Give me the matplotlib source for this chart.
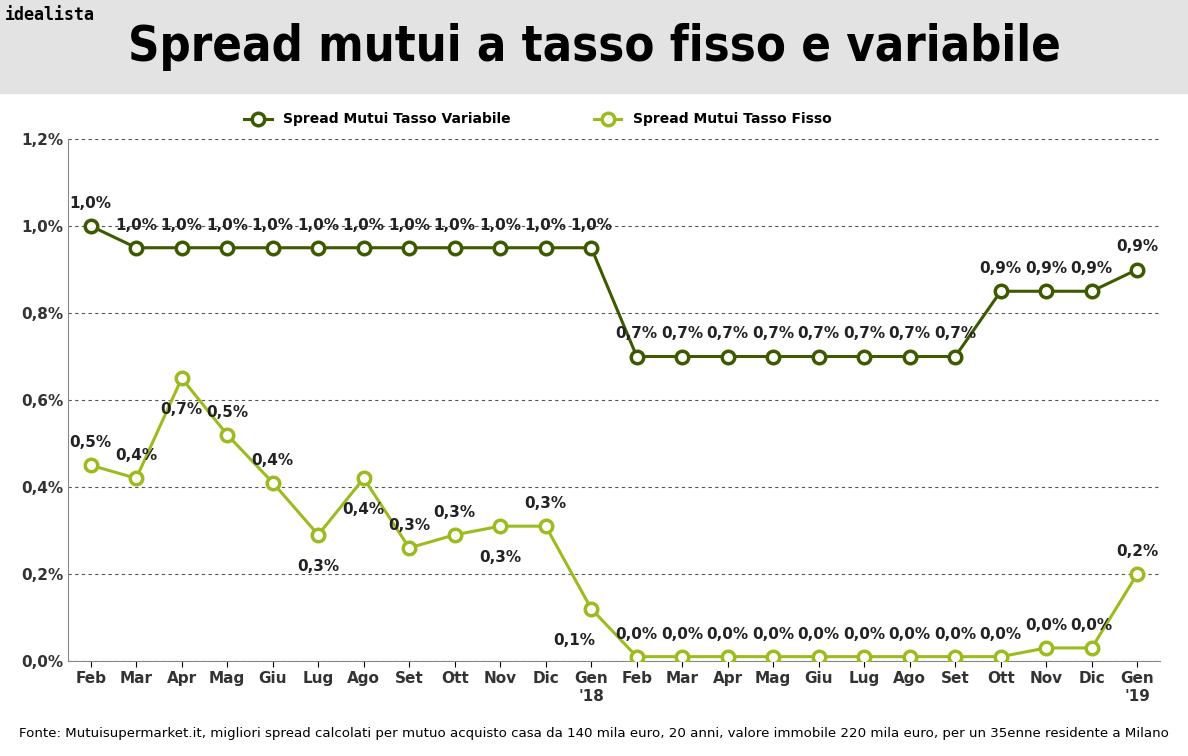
import matplotlib
matplotlib.use("Agg")
import matplotlib.pyplot as plt
from matplotlib.ticker import FuncFormatter

months = ["Feb","Mar","Apr","Mag","Giu","Lug","Ago","Set","Ott","Nov","Dic","Gen\n'18",
          "Feb","Mar","Apr","Mag","Giu","Lug","Ago","Set","Ott","Nov","Dic","Gen\n'19"]
variabile = [1.00,0.95,0.95,0.95,0.95,0.95,0.95,0.95,0.95,0.95,0.95,0.95,
             0.70,0.70,0.70,0.70,0.70,0.70,0.70,0.70,0.85,0.85,0.85,0.90]
fisso = [0.45,0.42,0.65,0.52,0.41,0.29,0.42,0.26,0.29,0.31,0.31,0.12,
         0.01,0.01,0.01,0.01,0.01,0.01,0.01,0.01,0.01,0.03,0.03,0.20]

dark = "#3d5a00"
light = "#9bbb1e"

fig = plt.figure(figsize=(11.88, 7.56), dpi=100)
fig.patches.append(plt.Rectangle((0, 1-93/756), 1, 93/756, transform=fig.transFigure,
                                 color="#e3e3e3", zorder=0))
fig.text(0.5, 1-47/756, "Spread mutui a tasso fisso e variabile", ha="center", va="center",
         fontsize=35, fontweight="bold", fontstretch="condensed", family="DejaVu Sans")
fig.text(0.004, 1-15/756, "idealista", ha="left", va="center", fontsize=12,
         fontweight="bold", family="DejaVu Sans Mono")
fig.text(0.5, 1-733/756, "Fonte: Mutuisupermarket.it, migliori spread calcolati per mutuo acquisto casa da 140 mila euro, 20 anni, valore immobile 220 mila euro, per un 35enne residente a Milano",
         ha="center", va="center", fontsize=9.6)

ax = fig.add_axes([68/1188, 1-661/756, (1160-68)/1188, (661-139)/756])
x = list(range(len(months)))
ax.plot(x, variabile, color=dark, lw=2.2, marker="o", ms=9, mfc="white", mec=dark, mew=2.5,
        label="Spread Mutui Tasso Variabile", zorder=3)
ax.plot(x, fisso, color=light, lw=2.2, marker="o", ms=9, mfc="white", mec=light, mew=2.5,
        label="Spread Mutui Tasso Fisso", zorder=3)

def fmt(v):
    return f"{v + 1e-9:.1f}%".replace(".", ",")

for i, v in enumerate(variabile):
    ax.annotate(fmt(v), (i, v), xytext=(0, 13), textcoords="offset points", ha="center",
                fontsize=11, fontweight="bold", color="#222")
below = {2, 5, 6, 9, 11}
for i, v in enumerate(fisso):
    dy = -26 if i in below else 13
    dx = -12 if i == 11 else 0
    ax.annotate(fmt(v), (i, v), xytext=(dx, dy), textcoords="offset points", ha="center",
                fontsize=11, fontweight="bold", color="#222")

ax.set_xlim(-0.5, len(months) - 0.5)
ax.set_ylim(0, 1.2)
ax.set_yticks([0, 0.2, 0.4, 0.6, 0.8, 1.0, 1.2])
ax.yaxis.set_major_formatter(FuncFormatter(lambda v, p: f"{v:.1f}%".replace(".", ",")))
ax.set_xticks(x)
ax.set_xticklabels(months)
for t in ax.get_xticklabels() + ax.get_yticklabels():
    t.set_fontweight("bold"); t.set_fontsize(11); t.set_color("#333")
ax.grid(axis="y", ls=(0, (3, 3)), color="#555", lw=0.8)
ax.tick_params(axis="y", length=0)
ax.tick_params(axis="x", length=4)
for s in ["top", "right"]:
    ax.spines[s].set_visible(False)
ax.spines["left"].set_color("#888")
ax.spines["bottom"].set_color("#888")
ax.legend(loc="lower center", bbox_to_anchor=(0.43, 1.0), ncol=2, frameon=False,
          prop={"weight": "bold", "size": 10}, columnspacing=6)
fig.savefig("out.png", dpi=100)
